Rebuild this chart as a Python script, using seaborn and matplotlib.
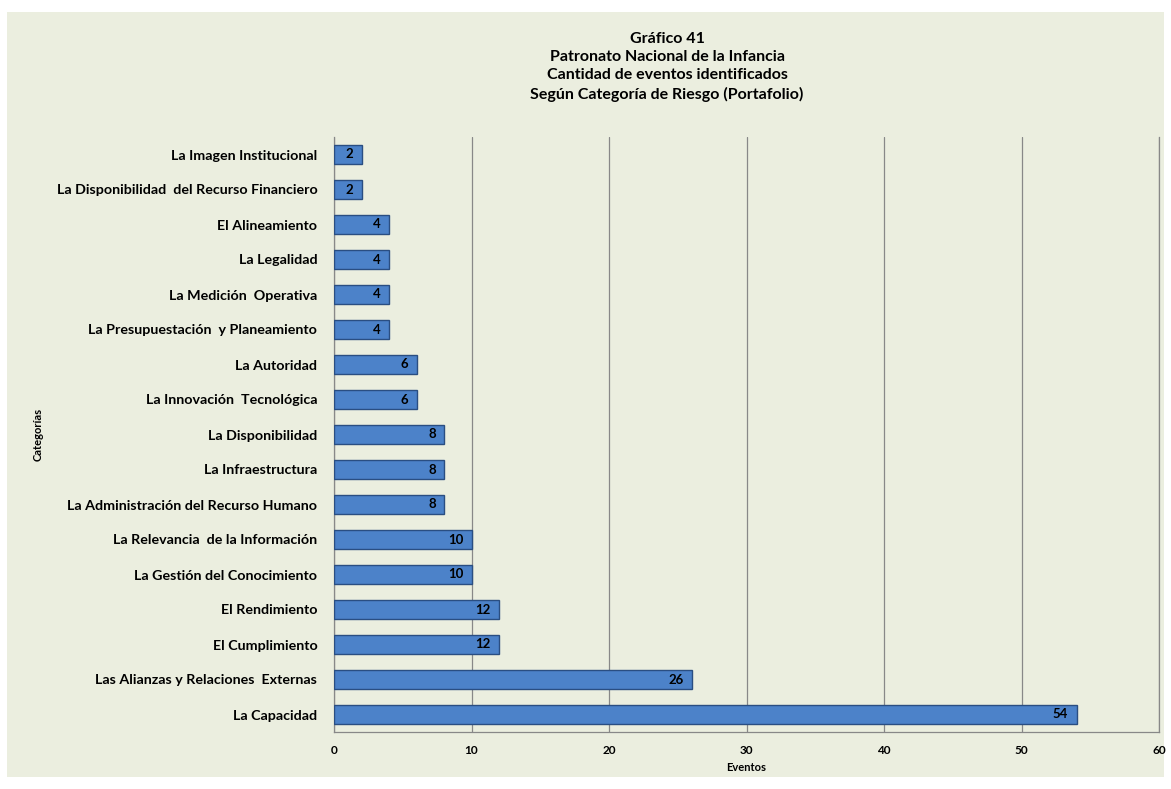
import matplotlib
matplotlib.use("Agg")
import matplotlib.pyplot as plt
import seaborn as sns
import pandas as pd
from matplotlib.patches import Rectangle

categories = [
    "La Imagen Institucional",
    "La Disponibilidad  del Recurso Financiero",
    "El Alineamiento",
    "La Legalidad",
    "La Medición  Operativa",
    "La Presupuestación  y Planeamiento",
    "La Autoridad",
    "La Innovación  Tecnológica",
    "La Disponibilidad",
    "La Infraestructura",
    "La Administración del Recurso Humano",
    "La Relevancia  de la Información",
    "La Gestión del Conocimiento",
    "El Rendimiento",
    "El Cumplimiento",
    "Las Alianzas y Relaciones  Externas",
    "La Capacidad",
]
values = [2, 2, 4, 4, 4, 4, 6, 6, 8, 8, 8, 10, 10, 12, 12, 26, 54]
xticks = [0, 10, 20, 30, 40, 50, 60]

title = ("Gráfico 41\nPatronato Nacional de la Infancia\n"
         "Cantidad de eventos identificados\nSegún Categoría de Riesgo (Portafolio)")

sns.set_theme(style="white")
plt.rcParams["font.family"] = ["Lato", "DejaVu Sans"]
plt.rcParams["font.weight"] = "bold"
plt.rcParams["text.color"] = "black"
plt.rcParams["axes.labelcolor"] = "black"
plt.rcParams["xtick.color"] = "black"
plt.rcParams["ytick.color"] = "black"

df = pd.DataFrame({"cat": categories, "val": values})

W, H = 1171, 789
fig = plt.figure(figsize=(W / 100, H / 100), dpi=100)
fig.patch.set_facecolor("white")
bg = Rectangle((7 / W, 1 - 777 / H), (1164 - 7) / W, (777 - 12) / H,
               transform=fig.transFigure, facecolor="#EBEEDF", edgecolor="none", zorder=-5)
fig.patches.append(bg)

ax = fig.add_axes([334 / W, 1 - 732 / H, (1159 - 334) / W, (732 - 137) / H])
ax.set_zorder(2)
ax.set_facecolor("#EBEEDF")

sns.barplot(data=df, y="cat", x="val", orient="h", ax=ax, color="#4C82C9",
            saturation=1, width=0.57, edgecolor="#2A4E82", linewidth=1.0, zorder=3)

for i, v in enumerate(values):
    ax.text(v - 0.6, i, str(v), ha="right", va="center", fontsize=9.5,
            fontweight="bold", color="black", zorder=4)

ax.set_xlim(0, 60)
ax.set_xticks(xticks)
ax.set_xticklabels([str(t) for t in xticks], fontsize=8.5, fontweight="bold")
ax.tick_params(axis="y", labelsize=10.3, length=0, pad=12)
ax.tick_params(axis="x", length=0, pad=9)
for lbl in ax.get_yticklabels():
    lbl.set_fontweight("bold")
ax.xaxis.grid(True, color="#888888", linewidth=0.9)
ax.set_axisbelow(True)
ax.spines["top"].set_visible(False)
for s in ["left", "right", "bottom"]:
    ax.spines[s].set_visible(True)
    ax.spines[s].set_color("#888888")
    ax.spines[s].set_linewidth(0.9)

ax.set_xlabel("Eventos", fontsize=8, fontweight="bold", labelpad=5)
ax.set_ylabel("Categorías", fontsize=8, fontweight="bold")
ax.yaxis.set_label_coords(-0.352, 0.5)

fig.text(667 / W, 1 - 67 / H, title, ha="center", va="center", fontsize=11.5,
         fontweight="bold", linespacing=1.4)

fig.savefig("out.png", dpi=100)
